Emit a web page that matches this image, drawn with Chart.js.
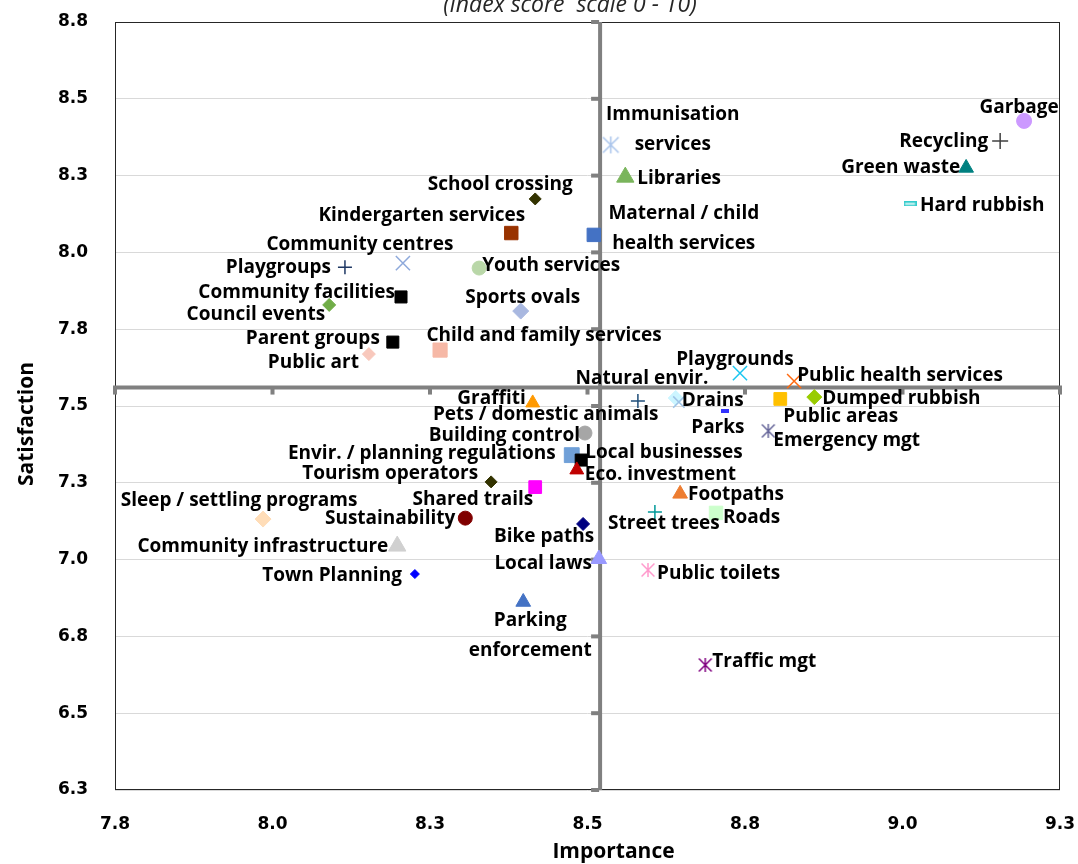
<!DOCTYPE html>
<html>
<head>
<meta charset="utf-8">
<script src="https://cdn.jsdelivr.net/npm/chart.js@4.4.1/dist/chart.umd.min.js"></script>
<style>
  html, body { margin: 0; padding: 0; background: #fff; }
  #wrap { width: 1078px; height: 864px; }
</style>
</head>
<body>
<div id="wrap"><canvas id="quadChart" width="1078" height="864"></canvas></div>
<script>
// Service names (categories)
const services = [
  'Garbage', 'Recycling', 'Green waste', 'Hard rubbish', 'Immunisation\nservices',
  'Libraries', 'Maternal / child\nhealth services', 'School crossing', 'Kindergarten services', 'Community centres',
  'Youth services', 'Playgroups', 'Community facilities', 'Council events', 'Sports ovals',
  'Parent groups', 'Public art', 'Child and family services', 'Playgrounds', 'Public health services',
  'Natural envir.', 'Pets / domestic animals', 'Drains', 'Parks', 'Public areas',
  'Dumped rubbish', 'Emergency mgt', 'Graffiti', 'Building control', 'Envir. / planning regulations',
  'Local businesses', 'Eco. investment', 'Tourism operators', 'Shared trails', 'Sleep / settling programs',
  'Sustainability', 'Bike paths', 'Street trees', 'Footpaths', 'Roads',
  'Community infrastructure', 'Local laws', 'Town Planning', 'Public toilets', 'Parking\nenforcement',
  'Traffic mgt'
];

// Importance index scores (x)
const importance = [
  9.193, 9.155, 9.101, 9.012, 8.537,
  8.560, 8.510, 8.417, 8.379, 8.207,
  8.328, 8.115, 8.204, 8.090, 8.394,
  8.191, 8.153, 8.266, 8.742, 8.828,
  8.580, 8.640, 8.645, 8.718, 8.806,
  8.860, 8.787, 8.413, 8.496, 8.475,
  8.490, 8.483, 8.347, 8.417, 7.985,
  8.306, 8.493, 8.607, 8.647, 8.704,
  8.198, 8.518, 8.226, 8.596, 8.398,
  8.687
];

// Satisfaction index scores (y)
const satisfaction = [
  8.428, 8.363, 8.275, 8.158, 8.350,
  8.245, 8.057, 8.174, 8.063, 7.965,
  7.949, 7.952, 7.855, 7.829, 7.809,
  7.708, 7.669, 7.682, 7.607, 7.581,
  7.516, 7.526, 7.513, 7.484, 7.523,
  7.529, 7.419, 7.510, 7.412, 7.340,
  7.324, 7.292, 7.253, 7.236, 7.132,
  7.135, 7.116, 7.155, 7.214, 7.152,
  7.044, 7.002, 6.953, 6.966, 6.862,
  6.657
];

// quadrant split (average scores)
const avgImportance = 8.52;
const avgSatisfaction = 7.56;

const xTickLabels = ['7.8', '8.0', '8.3', '8.5', '8.8', '9.0', '9.3'];
const yTickLabels = ['6.3', '6.5', '6.8', '7.0', '7.3', '7.5', '7.8', '8.0', '8.3', '8.5', '8.8'];

// marker: [shape, colour, radius]
const markers = [
  ['circle', '#CC99FF', 7.5], ['cross', '#404040', 8], ['triangle', '#008080', 8.5], ['dashBox', '#33CCCC', 6], ['asterisk', '#A9C4EB', 19],
  ['triangle', '#7AB55C', 10], ['rect', '#4472C4', 9.5], ['rectRot', '#333300', 6], ['rect', '#993300', 9.5], ['crossRot', '#8EA9DB', 10],
  ['circle', '#B9D7A8', 7], ['cross', '#1F3864', 7], ['rect', '#000000', 8.5], ['rectRot', '#70AD47', 6.5], ['rectRot', '#A9B8E0', 8],
  ['rect', '#000000', 8.5], ['rectRot', '#F8C8BC', 6.5], ['rect', '#F6B8A6', 10], ['crossRot', '#1AC6F0', 10], ['crossRot', '#FF6A10', 10],
  ['cross', '#1F4E79', 7], ['rectRot', '#CCF5FF', 7.5], ['crossRot', '#9DC3E6', 8], ['bar', '#3333FF', 6], ['rect', '#FFC000', 9],
  ['rectRot', '#99CC00', 7.5], ['asterisk', '#666699', 16], ['triangle', '#FF9900', 8], ['circle', '#A6A6A6', 7], ['rect', '#70A0D8', 10.5],
  ['rect', '#000000', 8.5], ['triangle', '#C00000', 8], ['rectRot', '#333300', 6], ['rect', '#FF00FF', 9], ['rectRot', '#FFDDB8', 8],
  ['circle', '#800000', 7], ['rectRot', '#000080', 6.5], ['cross', '#009999', 7], ['triangle', '#ED7D31', 8.5], ['rect', '#CCFFCC', 9.5],
  ['triangle', '#D0D0D0', 10], ['triangle', '#9999FF', 9], ['rectRot', '#0000FF', 4.5], ['asterisk', '#FF99CC', 16], ['triangle', '#4472C4', 8.5],
  ['asterisk', '#800080', 16]
];

// label placement relative to marker: [align, dx, dy]
const labelPos = [
  ['center', -5, -15], ['right', -12, -1], ['right', -6, -2], ['left', 10, 0], ['center', 62, -32],
  ['left', 12, 0], ['center', 90, -23], ['center', -35, -16], ['right', 14, -19], ['center', -43, -20],
  ['left', 3, -4], ['right', -14, -1], ['right', -6, -6], ['right', -4, 8], ['center', 2, -15],
  ['right', -13, -5], ['right', -10, 7], ['center', 104, -16], ['center', -5, -15], ['left', 3, -7],
  ['center', 4, -24], ['center', -130, 15], ['left', 3, -3], ['center', -7, 15], ['left', 3, 16],
  ['left', 8, 0], ['left', 5, 8], ['right', -7, -6], ['right', -5, 1], ['right', -16, -3],
  ['left', 4, -9], ['left', 8, 3], ['right', -13, -10], ['right', -2, 11], ['center', -24, -20],
  ['right', -10, -1], ['center', -39, 11], ['center', 9, 10], ['left', 8, -1], ['left', 7, 3],
  ['right', -9, -1], ['right', -7, 3], ['right', -13, 0], ['left', 9, 2], ['center', 7, 17],
  ['left', 7, -5]
];

const labelFont = 'bold 19px "Open Sans"';
const axisTitleFont = 'bold 21px "Open Sans"';

function asteriskMark(color, size) {
  const c = document.createElement('canvas');
  c.width = c.height = size;
  const g = c.getContext('2d');
  const m = size / 2, r = size / 2 - 1, d = r * 0.92;
  g.strokeStyle = color;
  g.lineWidth = 1.5;
  g.beginPath();
  g.moveTo(m, m - r); g.lineTo(m, m + r);
  g.moveTo(m - d, m - d); g.lineTo(m + d, m + d);
  g.moveTo(m - d, m + d); g.lineTo(m + d, m - d);
  g.stroke();
  return c;
}

function barMark(fill, stroke, w, h) {
  const c = document.createElement('canvas');
  c.width = w; c.height = h;
  const g = c.getContext('2d');
  g.fillStyle = fill;
  g.fillRect(0, 0, w, h);
  if (stroke) {
    g.strokeStyle = stroke;
    g.lineWidth = 1.5;
    g.strokeRect(0.75, 0.75, w - 1.5, h - 1.5);
  }
  return c;
}

const pointStyles = markers.map(([shape, color, r]) => {
  if (shape === 'asterisk') return asteriskMark(color, r);
  if (shape === 'dashBox') return barMark('#D9F5F5', color, 13, 5);
  if (shape === 'bar') return barMark(color, null, 8, 4);
  return shape;
});

const lineOnly = ['cross', 'crossRot'];

const quadrantPlugin = {
  id: 'quadrants',
  beforeDatasetsDraw(chart) {
    const { ctx, chartArea: a, scales: { x, y } } = chart;
    const qx = x.getPixelForValue(avgImportance);
    const qy = y.getPixelForValue(avgSatisfaction);
    ctx.save();
    // plot border
    ctx.strokeStyle = '#262626';
    ctx.lineWidth = 1;
    ctx.strokeRect(a.left + 0.5, a.top + 0.5, a.right - a.left - 1, a.bottom - a.top - 1);
    // average lines
    ctx.strokeStyle = '#808080';
    ctx.fillStyle = '#808080';
    ctx.lineWidth = 4;
    ctx.beginPath();
    ctx.moveTo(qx, a.top);
    ctx.lineTo(qx, a.bottom);
    ctx.moveTo(a.left - 2, qy);
    ctx.lineTo(a.right + 2, qy);
    ctx.stroke();
    // tick stubs on the average lines
    y.ticks.forEach(t => {
      const py = y.getPixelForValue(t.value);
      ctx.fillRect(qx - 9, py - 2, 8, 4);
    });
    x.ticks.forEach(t => {
      const px = x.getPixelForValue(t.value);
      ctx.fillRect(px - 2, qy, 4, 7);
    });
    ctx.restore();
  },
  afterDraw(chart) {
    const { ctx, chartArea: a } = chart;
    const meta = chart.getDatasetMeta(0);
    ctx.save();
    ctx.fillStyle = '#000000';
    ctx.font = labelFont;
    ctx.textBaseline = 'alphabetic';
    meta.data.forEach((pt, i) => {
      const [align, dx, dy] = labelPos[i];
      ctx.textAlign = align;
      services[i].split('\n').forEach((line, k) => {
        ctx.fillText(line, pt.x + dx, pt.y + dy + k * 30 + 7);
      });
    });
    // axis titles
    ctx.font = axisTitleFont;
    ctx.textAlign = 'center';
    ctx.fillText('Importance', (a.left + a.right) / 2 + 26, 858);
    ctx.save();
    ctx.translate(33, 424);
    ctx.rotate(-Math.PI / 2);
    ctx.fillText('Satisfaction', 0, 0);
    ctx.restore();
    // chart subtitle (clipped at the top)
    ctx.font = 'italic 23px "Open Sans"';
    ctx.fillStyle = '#262626';
    ctx.fillText('(index score  scale 0 - 10)', 570, 12);
    ctx.restore();
  }
};

const ctx = document.getElementById('quadChart').getContext('2d');
new Chart(ctx, {
  type: 'scatter',
  data: {
    labels: services,
    datasets: [{
      label: 'Services',
      data: importance.map((v, i) => ({ x: v, y: satisfaction[i] })),
      pointStyle: pointStyles,
      pointRadius: markers.map(m => m[0] === 'asterisk' ? 6 : m[2]),
      pointHoverRadius: markers.map(m => m[0] === 'asterisk' ? 6 : m[2]),
      backgroundColor: markers.map(m => m[1]),
      borderColor: markers.map(m => m[1]),
      borderWidth: markers.map(m => lineOnly.includes(m[0]) ? 1.5 : 1),
      showLine: false
    }]
  },
  options: {
    responsive: false,
    devicePixelRatio: 1,
    animation: false,
    layout: { padding: { top: 22, right: 18, left: 0, bottom: 0 } },
    plugins: {
      legend: { display: false },
      tooltip: { enabled: false }
    },
    scales: {
      x: {
        type: 'linear',
        min: 7.75,
        max: 9.25,
        afterFit: s => { s.height = 74; s.paddingLeft = 0; s.paddingRight = 0; },
        grid: { display: false, drawTicks: false },
        border: { display: false },
        ticks: {
          stepSize: 0.25,
          padding: 24,
          color: '#000000',
          font: { family: 'DejaVu Sans', weight: 'bold', size: 17 },
          callback: (v, i) => xTickLabels[i]
        }
      },
      y: {
        type: 'linear',
        min: 6.25,
        max: 8.75,
        afterFit: s => { s.width = 115; s.paddingTop = 0; s.paddingBottom = 0; },
        grid: { color: '#D9D9D9', lineWidth: 1, drawTicks: false },
        border: { display: false },
        ticks: {
          stepSize: 0.25,
          padding: 27,
          color: '#000000',
          font: { family: 'DejaVu Sans', weight: 'bold', size: 17 },
          callback: (v, i) => yTickLabels[i]
        }
      }
    }
  },
  plugins: [quadrantPlugin]
});
</script>
</body>
</html>
